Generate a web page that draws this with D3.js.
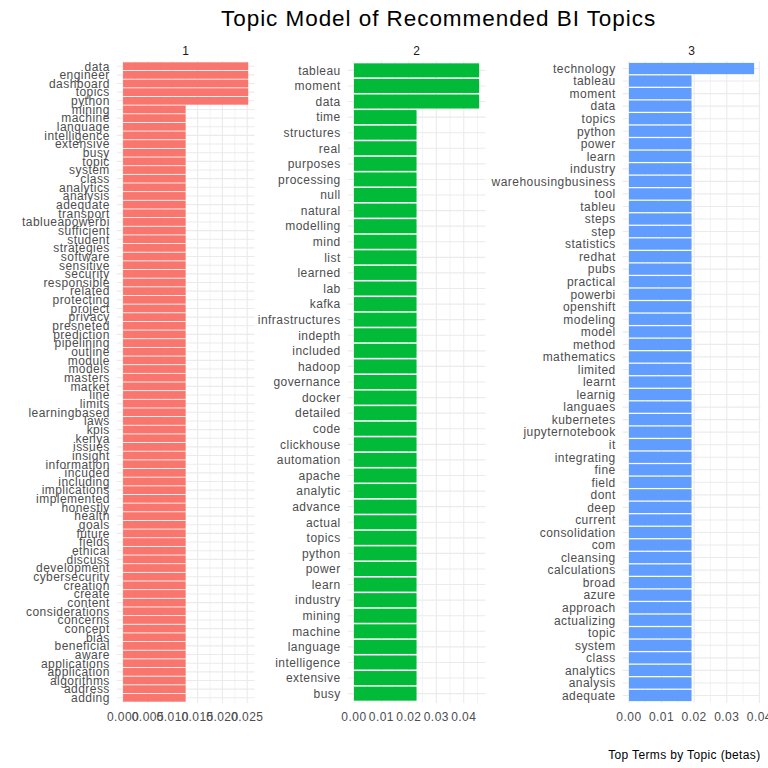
<!DOCTYPE html>
<html>
<head>
<meta charset="utf-8">
<script src="https://cdn.jsdelivr.net/npm/d3@7"></script>
<style>
  body { margin: 0; background: #fff; }
  svg { display: block; font-family: "Liberation Sans", Arial, sans-serif; }
</style>
</head>
<body>
<svg id="chart"></svg>
<script>
/* DATA */
var topic1Terms = ["data", "engineer", "dashboard", "topics", "python", "mining", "machine",
  "language", "intelligence", "extensive", "busy", "topic", "system", "class", "analytics",
  "analysis", "adequate", "transport", "tablueapowerbi", "sufficient", "student", "strategies",
  "software", "sensitive", "security", "responsible", "related", "protecting", "project",
  "privacy", "presneted", "prediction", "pipelining", "outline", "module", "models", "masters",
  "market", "line", "limits", "learningbased", "laws", "kpis", "kenya", "issues", "insight",
  "information", "incuded", "including", "implications", "implemented", "honestly", "health",
  "goals", "future", "fields", "ethical", "discuss", "development", "cybersecurity", "creation",
  "create", "content", "considerations", "concerns", "concept", "bias", "beneficial", "aware",
  "applications", "application", "algorithms", "address", "adding"];
var topic1Betas = [0.0252, 0.0252, 0.0252, 0.0252, 0.0252,
  0.0126, 0.0126, 0.0126, 0.0126, 0.0126, 0.0126, 0.0126, 0.0126, 0.0126, 0.0126,
  0.0126, 0.0126, 0.0126, 0.0126, 0.0126, 0.0126, 0.0126, 0.0126, 0.0126, 0.0126,
  0.0126, 0.0126, 0.0126, 0.0126, 0.0126, 0.0126, 0.0126, 0.0126, 0.0126, 0.0126,
  0.0126, 0.0126, 0.0126, 0.0126, 0.0126, 0.0126, 0.0126, 0.0126, 0.0126, 0.0126,
  0.0126, 0.0126, 0.0126, 0.0126, 0.0126, 0.0126, 0.0126, 0.0126, 0.0126, 0.0126,
  0.0126, 0.0126, 0.0126, 0.0126, 0.0126, 0.0126, 0.0126, 0.0126, 0.0126, 0.0126,
  0.0126, 0.0126, 0.0126, 0.0126, 0.0126, 0.0126, 0.0126, 0.0126, 0.0126];

var topic2Terms = ["tableau", "moment", "data", "time", "structures", "real", "purposes",
  "processing", "null", "natural", "modelling", "mind", "list", "learned", "lab", "kafka",
  "infrastructures", "indepth", "included", "hadoop", "governance", "docker", "detailed",
  "code", "clickhouse", "automation", "apache", "analytic", "advance", "actual", "topics",
  "python", "power", "learn", "industry", "mining", "machine", "language", "intelligence",
  "extensive", "busy"];
var topic2Betas = [0.0456, 0.0456, 0.0456,
  0.0228, 0.0228, 0.0228, 0.0228, 0.0228, 0.0228, 0.0228, 0.0228, 0.0228, 0.0228,
  0.0228, 0.0228, 0.0228, 0.0228, 0.0228, 0.0228, 0.0228, 0.0228, 0.0228, 0.0228,
  0.0228, 0.0228, 0.0228, 0.0228, 0.0228, 0.0228, 0.0228, 0.0228, 0.0228, 0.0228,
  0.0228, 0.0228, 0.0228, 0.0228, 0.0228, 0.0228, 0.0228, 0.0228];

var topic3Terms = ["technology", "tableau", "moment", "data", "topics", "python", "power",
  "learn", "industry", "warehousingbusiness", "tool", "tableu", "steps", "step", "statistics",
  "redhat", "pubs", "practical", "powerbi", "openshift", "modeling", "model", "method",
  "mathematics", "limited", "learnt", "learnig", "languaes", "kubernetes", "jupyternotebook",
  "it", "integrating", "fine", "field", "dont", "deep", "current", "consolidation", "com",
  "cleansing", "calculations", "broad", "azure", "approach", "actualizing", "topic", "system",
  "class", "analytics", "analysis", "adequate"];
var topic3Betas = [0.0384,
  0.0192, 0.0192, 0.0192, 0.0192, 0.0192, 0.0192, 0.0192, 0.0192, 0.0192, 0.0192,
  0.0192, 0.0192, 0.0192, 0.0192, 0.0192, 0.0192, 0.0192, 0.0192, 0.0192, 0.0192,
  0.0192, 0.0192, 0.0192, 0.0192, 0.0192, 0.0192, 0.0192, 0.0192, 0.0192, 0.0192,
  0.0192, 0.0192, 0.0192, 0.0192, 0.0192, 0.0192, 0.0192, 0.0192, 0.0192, 0.0192,
  0.0192, 0.0192, 0.0192, 0.0192, 0.0192, 0.0192, 0.0192, 0.0192, 0.0192, 0.0192];

var topicNames = ["1", "2", "3"];
var topicColors = ["#F8766D", "#00BA38", "#619CFF"];

/* SETUP */
var width = 768;
var height = 768;
var panelLefts = [116.8, 347.7, 622.7];
var panelWidth = 137.7;
var panelTop = 61;
var panelBottom = 703;
var fontSize = 12;
var spacing = "0.038em";

var svg = d3.select("#chart")
  .attr("width", width)
  .attr("height", height);

var panels = [
  { name: topicNames[0], terms: topic1Terms, betas: topic1Betas, color: topicColors[0] },
  { name: topicNames[1], terms: topic2Terms, betas: topic2Betas, color: topicColors[1] },
  { name: topicNames[2], terms: topic3Terms, betas: topic3Betas, color: topicColors[2] }
];

/* DRAW PANELS */
panels.forEach(function(p, i) {
  var left = panelLefts[i];
  var maxBeta = d3.max(p.betas);
  var x = d3.scaleLinear()
    .domain([-0.05 * maxBeta, 1.05 * maxBeta])
    .range([left, left + panelWidth]);
  var y = d3.scaleBand()
    .domain(p.terms)
    .range([panelTop, panelBottom])
    .paddingInner(0.1)
    .paddingOuter(0.15);

  var g = svg.append("g").attr("class", "panel");

  var major = x.ticks(5);
  var step = major[1] - major[0];
  var minor = [];
  for (var v = major[0] - step / 2; v <= x.domain()[1]; v += step) {
    if (v >= x.domain()[0]) minor.push(v);
  }

  // grid
  g.selectAll("line.minor").data(minor).join("line")
    .attr("x1", d => x(d)).attr("x2", d => x(d))
    .attr("y1", panelTop).attr("y2", panelBottom)
    .attr("stroke", "#EBEBEB").attr("stroke-width", 0.6);
  g.selectAll("line.majorx").data(major).join("line")
    .attr("x1", d => x(d)).attr("x2", d => x(d))
    .attr("y1", panelTop).attr("y2", panelBottom)
    .attr("stroke", "#EBEBEB").attr("stroke-width", 1.1);
  g.append("g").selectAll("line").data(p.terms).join("line")
    .attr("x1", left).attr("x2", left + panelWidth)
    .attr("y1", d => y(d) + y.bandwidth() / 2)
    .attr("y2", d => y(d) + y.bandwidth() / 2)
    .attr("stroke", "#EBEBEB").attr("stroke-width", 1.1);

  // bars
  g.append("g").selectAll("rect").data(p.terms).join("rect")
    .attr("x", x(0))
    .attr("y", d => y(d))
    .attr("width", (d, j) => x(p.betas[j]) - x(0))
    .attr("height", y.bandwidth())
    .attr("fill", p.color);

  // y labels
  g.append("g").selectAll("text").data(p.terms).join("text")
    .attr("x", left - 7)
    .attr("y", d => y(d) + y.bandwidth() / 2)
    .attr("dy", "0.36em")
    .attr("text-anchor", "end")
    .attr("font-size", fontSize)
    .attr("letter-spacing", spacing)
    .attr("fill", "#4D4D4D")
    .text(d => d);

  // x labels
  var fmt = d3.format(step < 0.01 ? ".3f" : ".2f");
  g.append("g").selectAll("text").data(major).join("text")
    .attr("x", d => x(d))
    .attr("y", 721)
    .attr("text-anchor", "middle")
    .attr("font-size", fontSize)
    .attr("letter-spacing", spacing)
    .attr("fill", "#4D4D4D")
    .text(d => fmt(d));

  // strip
  g.append("text")
    .attr("x", left + panelWidth / 2)
    .attr("y", 54.7)
    .attr("text-anchor", "middle")
    .attr("font-size", fontSize)
    .attr("fill", "#1A1A1A")
    .text(p.name);
});

/* TITLE AND CAPTION */
svg.append("text")
  .attr("x", (panelLefts[0] + panelLefts[2] + panelWidth) / 2)
  .attr("y", 26)
  .attr("text-anchor", "middle")
  .attr("font-size", 22.5)
  .attr("letter-spacing", "0.042em")
  .attr("fill", "#000")
  .text("Topic Model of Recommended BI Topics");

svg.append("text")
  .attr("x", 760.5)
  .attr("y", 758.5)
  .attr("text-anchor", "end")
  .attr("font-size", fontSize)
  .attr("letter-spacing", "0.03em")
  .attr("fill", "#000")
  .text("Top Terms by Topic (betas)");
</script>
</body>
</html>
